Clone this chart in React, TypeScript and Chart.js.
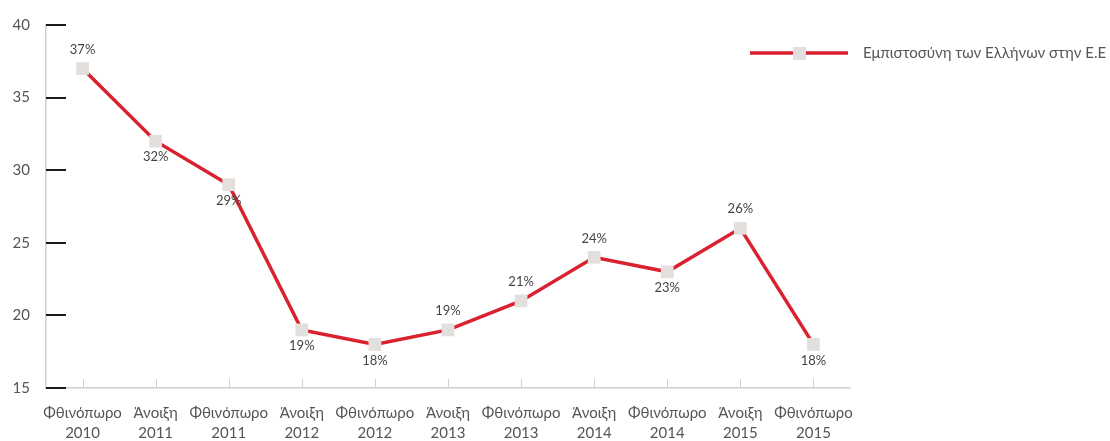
import React, { useEffect, useRef } from "react";
import { Chart, registerables } from "chart.js";

Chart.register(...registerables);

const categories: string[][] = [
  ["Φθινόπωρο", "2010"],
  ["Άνοιξη", "2011"],
  ["Φθινόπωρο", "2011"],
  ["Άνοιξη", "2012"],
  ["Φθινόπωρο", "2012"],
  ["Άνοιξη", "2013"],
  ["Φθινόπωρο", "2013"],
  ["Άνοιξη", "2014"],
  ["Φθινόπωρο", "2014"],
  ["Άνοιξη", "2015"],
  ["Φθινόπωρο", "2015"],
];
const trustValues: number[] = [37, 32, 29, 19, 18, 19, 21, 24, 23, 26, 18];
const labelAbove: boolean[] = [true, false, false, false, false, true, true, true, false, true, false];
const yTicks: number[] = [15, 20, 25, 30, 35, 40];
const seriesName = "Εμπιστοσύνη των Ελλήνων στην Ε.Ε";

const RED = "#d9212f";
const MARKER = "#e3dfdc";
const FONT = "Lato, 'Open Sans', sans-serif";

const customPlugin = {
  id: "custom",
  afterDatasetsDraw(chart: any) {
    const ctx = chart.ctx;
    const xs = chart.scales.x;
    const ys = chart.scales.y;
    const area = chart.chartArea;
    ctx.save();
    // x tick marks (inside)
    ctx.strokeStyle = "#cfcfcf";
    ctx.lineWidth = 1;
    for (let i = 0; i < categories.length; i++) {
      const x = Math.round(xs.getPixelForValue(i)) + 0.5;
      ctx.beginPath();
      ctx.moveTo(x, area.bottom - 9);
      ctx.lineTo(x, area.bottom);
      ctx.stroke();
    }
    // y tick marks (inside, black)
    ctx.strokeStyle = "#1a1a1a";
    ctx.lineWidth = 2;
    for (const v of yTicks) {
      const y = Math.round(ys.getPixelForValue(v));
      ctx.beginPath();
      ctx.moveTo(area.left, y);
      ctx.lineTo(area.left + 20, y);
      ctx.stroke();
    }
    // data labels
    const meta = chart.getDatasetMeta(0);
    ctx.font = "13px " + FONT;
    ctx.fillStyle = "#444";
    ctx.textAlign = "center";
    ctx.textBaseline = "middle";
    meta.data.forEach((pt: any, i: number) => {
      const dy = labelAbove[i] ? -19 : 16;
      ctx.fillText(trustValues[i] + "%", pt.x, pt.y + dy);
    });
    // legend
    const ly = 53;
    ctx.strokeStyle = RED;
    ctx.lineWidth = 3.5;
    ctx.beginPath();
    ctx.moveTo(750, ly);
    ctx.lineTo(848, ly);
    ctx.stroke();
    ctx.fillStyle = MARKER;
    ctx.fillRect(793, ly - 6, 13, 13);
    ctx.font = "15px " + FONT;
    ctx.fillStyle = "#555";
    ctx.textAlign = "left";
    ctx.fillText(seriesName, 863, ly);
    ctx.restore();
  },
};

export default function App() {
  const ref = useRef<HTMLCanvasElement>(null);
  useEffect(() => {
    if (!ref.current) return;
    const chart = new Chart(ref.current, {
      type: "line",
      data: {
        labels: categories,
        datasets: [
          {
            label: seriesName,
            data: trustValues,
            borderColor: RED,
            borderWidth: 3.5,
            pointStyle: "rect",
            pointRadius: 9,
            pointHoverRadius: 9,
            pointBackgroundColor: MARKER,
            pointBorderWidth: 0,
            tension: 0,
          },
        ],
      },
      options: {
        animation: false,
        responsive: false,
        maintainAspectRatio: false,
        layout: { padding: { top: 25, right: 260, left: 0, bottom: 0 } },
        plugins: {
          legend: { display: false },
          tooltip: { enabled: false },
        },
        scales: {
          x: {
            offset: true,
            grid: { display: false, drawTicks: false },
            border: { display: true, color: "#d0d0d0", width: 1.5 },
            ticks: {
              color: "#555",
              font: { family: FONT, size: 15, lineHeight: 1.35 },
              padding: 15,
              maxRotation: 0,
              autoSkip: false,
            },
            afterFit(scale: any) {
              scale.height = 53;
            },
          },
          y: {
            min: 15,
            max: 40,
            grid: { display: false, drawTicks: false },
            border: { display: true, color: "#d0d0d0", width: 1.5 },
            ticks: {
              stepSize: 5,
              color: "#555",
              font: { family: FONT, size: 15 },
              padding: 16,
            },
            afterFit(scale: any) {
              scale.width = 46;
            },
          },
        },
      },
      plugins: [customPlugin],
    });
    return () => chart.destroy();
  }, []);
  return (
    <div style={{ position: "absolute", left: 0, top: 0, width: 1110, height: 441 }}>
      <canvas ref={ref} width={1110} height={441} style={{ display: "block" }} />
    </div>
  );
}
